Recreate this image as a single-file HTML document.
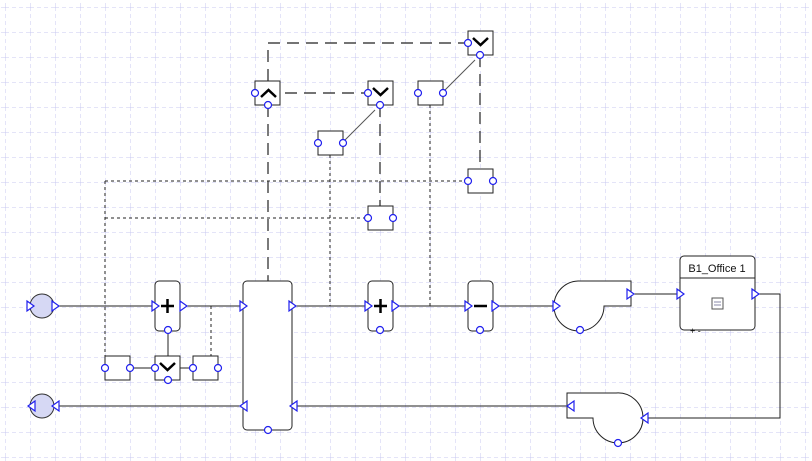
<!DOCTYPE html>
<html><head><style>
html,body{margin:0;padding:0;background:#fff;}
svg{display:block;}
</style></head><body>
<svg width="812" height="461" viewBox="0 0 812 461" xmlns="http://www.w3.org/2000/svg" font-family="Liberation Sans, sans-serif">
<defs>
<pattern id="g" x="5" y="7" width="25" height="25" patternUnits="userSpaceOnUse">
<path d="M0 0V25M0 0H25" stroke="#c8c8f0" stroke-width="1" stroke-dasharray="4,3" fill="none"/>
</pattern>
</defs>
<rect width="812" height="461" fill="url(#g)"/>

<g fill="none" stroke="#222" stroke-width="1">
<g stroke-dasharray="3,3">
<path d="M105 181H468M105 218H368M105 181V356M330 155V306M430 105V306M211 306V356"/>
</g>
<g stroke-dasharray="12,7" stroke-width="1.2">
<path d="M268 81V43H468M285 93H368M268 105V281M380 105V206M480 55V169"/>
</g>
<path d="M442 93L475 60M342 143L375 110" stroke="#555"/>

<path d="M55 306H155M180 306H243M292 306H368M392 306H468M492 306H555M631 294H680M755 294H780V418H640M567 406H292M243 406H55"/>
<path d="M168 330V356M130 368H155M180 368H193"/>

<rect x="155" y="281" width="25" height="50" rx="4" fill="#fff"/>
<rect x="368" y="281" width="25" height="50" rx="4" fill="#fff"/>
<rect x="468" y="281" width="25" height="50" rx="4" fill="#fff"/>
<rect x="243" y="281" width="49" height="149" rx="4" fill="#fff"/>
<path d="M268 281V275"/>
<rect x="105" y="356" width="25" height="24" fill="#fff"/>
<rect x="155" y="356" width="25" height="24" fill="#fff"/>
<rect x="193" y="356" width="25" height="24" fill="#fff"/>
<rect x="255" y="81" width="25" height="24" fill="#fff"/>
<rect x="368" y="81" width="25" height="24" fill="#fff"/>
<rect x="468" y="31" width="25" height="24" fill="#fff"/>
<rect x="418" y="81" width="25" height="24" fill="#fff"/>
<rect x="318" y="131" width="25" height="24" fill="#fff"/>
<rect x="468" y="169" width="25" height="24" fill="#fff"/>
<rect x="368" y="206" width="25" height="24" fill="#fff"/>
<path d="M578 281H631V306H604A25 25 0 1 1 578 281Z" fill="#fff"/>
<path d="M567 393H616A25 25 0 1 1 593 418H567Z" fill="#fff"/>
<rect x="680" y="256" width="75" height="74" rx="4" fill="#fff"/>
<path d="M680 278H755"/>
<rect x="712" y="298" width="11" height="11" stroke="#555"/>
</g>
<path d="M714 302h7M714 305h7" stroke="#88a" stroke-width="1"/>
<text x="717" y="272" font-size="11" text-anchor="middle" fill="#111">B1_Office 1</text>
<text x="690" y="334" font-size="9" fill="#111">+ -</text>

<g stroke="#000" stroke-width="2.5" fill="none">
<path d="M161 306H174M167.5 299V313"/>
<path d="M374 306H387M380.5 299V313"/>
<path d="M474 306H487"/>
<path d="M160 363l7.5 7 7.5-7"/>
<path d="M373 88l7.5 7 7.5-7"/>
<path d="M473 38l7.5 7 7.5-7"/>
<path d="M261 97l7.5-7 7.5 7"/>
</g>

<circle cx="42" cy="306" r="12" fill="#d6d8f4" stroke="#333"/>
<circle cx="42" cy="406" r="12" fill="#d6d8f4" stroke="#333"/>

<g fill="#fff" stroke="#2020ee" stroke-width="1.2">
<path d="M27 301l7 5-7 5zM52 301l7 5-7 5zM152 301l7 5-7 5zM180 301l7 5-7 5zM240 301l7 5-7 5zM289 301l7 5-7 5zM365 301l7 5-7 5zM392 301l7 5-7 5zM465 301l7 5-7 5zM492 301l7 5-7 5zM553 301l7 5-7 5zM627 289l7 5-7 5zM677 289l7 5-7 5zM752 289l7 5-7 5z"/>
<path d="M35 401l-7 5 7 5zM59 401l-7 5 7 5zM247 401l-7 5 7 5zM297 401l-7 5 7 5zM574 401l-7 5 7 5zM648 413l-7 5 7 5z"/>
</g>
<g fill="#fff" stroke="#2020ee" stroke-width="1.2">
<circle cx="168" cy="330" r="3.5"/><circle cx="380" cy="330" r="3.5"/><circle cx="480" cy="330" r="3.5"/>
<circle cx="268" cy="430" r="3.5"/><circle cx="580" cy="330" r="3.5"/><circle cx="618" cy="443" r="3.5"/>
<circle cx="105" cy="368" r="3.5"/><circle cx="130" cy="368" r="3.5"/><circle cx="155" cy="368" r="3.5"/><circle cx="168" cy="380" r="3.5"/><circle cx="193" cy="368" r="3.5"/><circle cx="218" cy="368" r="3.5"/>
<circle cx="255" cy="93" r="3.5"/><circle cx="268" cy="105" r="3.5"/>
<circle cx="368" cy="93" r="3.5"/><circle cx="380" cy="105" r="3.5"/>
<circle cx="468" cy="43" r="3.5"/><circle cx="480" cy="55" r="3.5"/>
<circle cx="418" cy="93" r="3.5"/><circle cx="443" cy="93" r="3.5"/>
<circle cx="318" cy="143" r="3.5"/><circle cx="343" cy="143" r="3.5"/>
<circle cx="468" cy="181" r="3.5"/><circle cx="493" cy="181" r="3.5"/>
<circle cx="368" cy="218" r="3.5"/><circle cx="393" cy="218" r="3.5"/>
</g>
</svg>
</body></html>
